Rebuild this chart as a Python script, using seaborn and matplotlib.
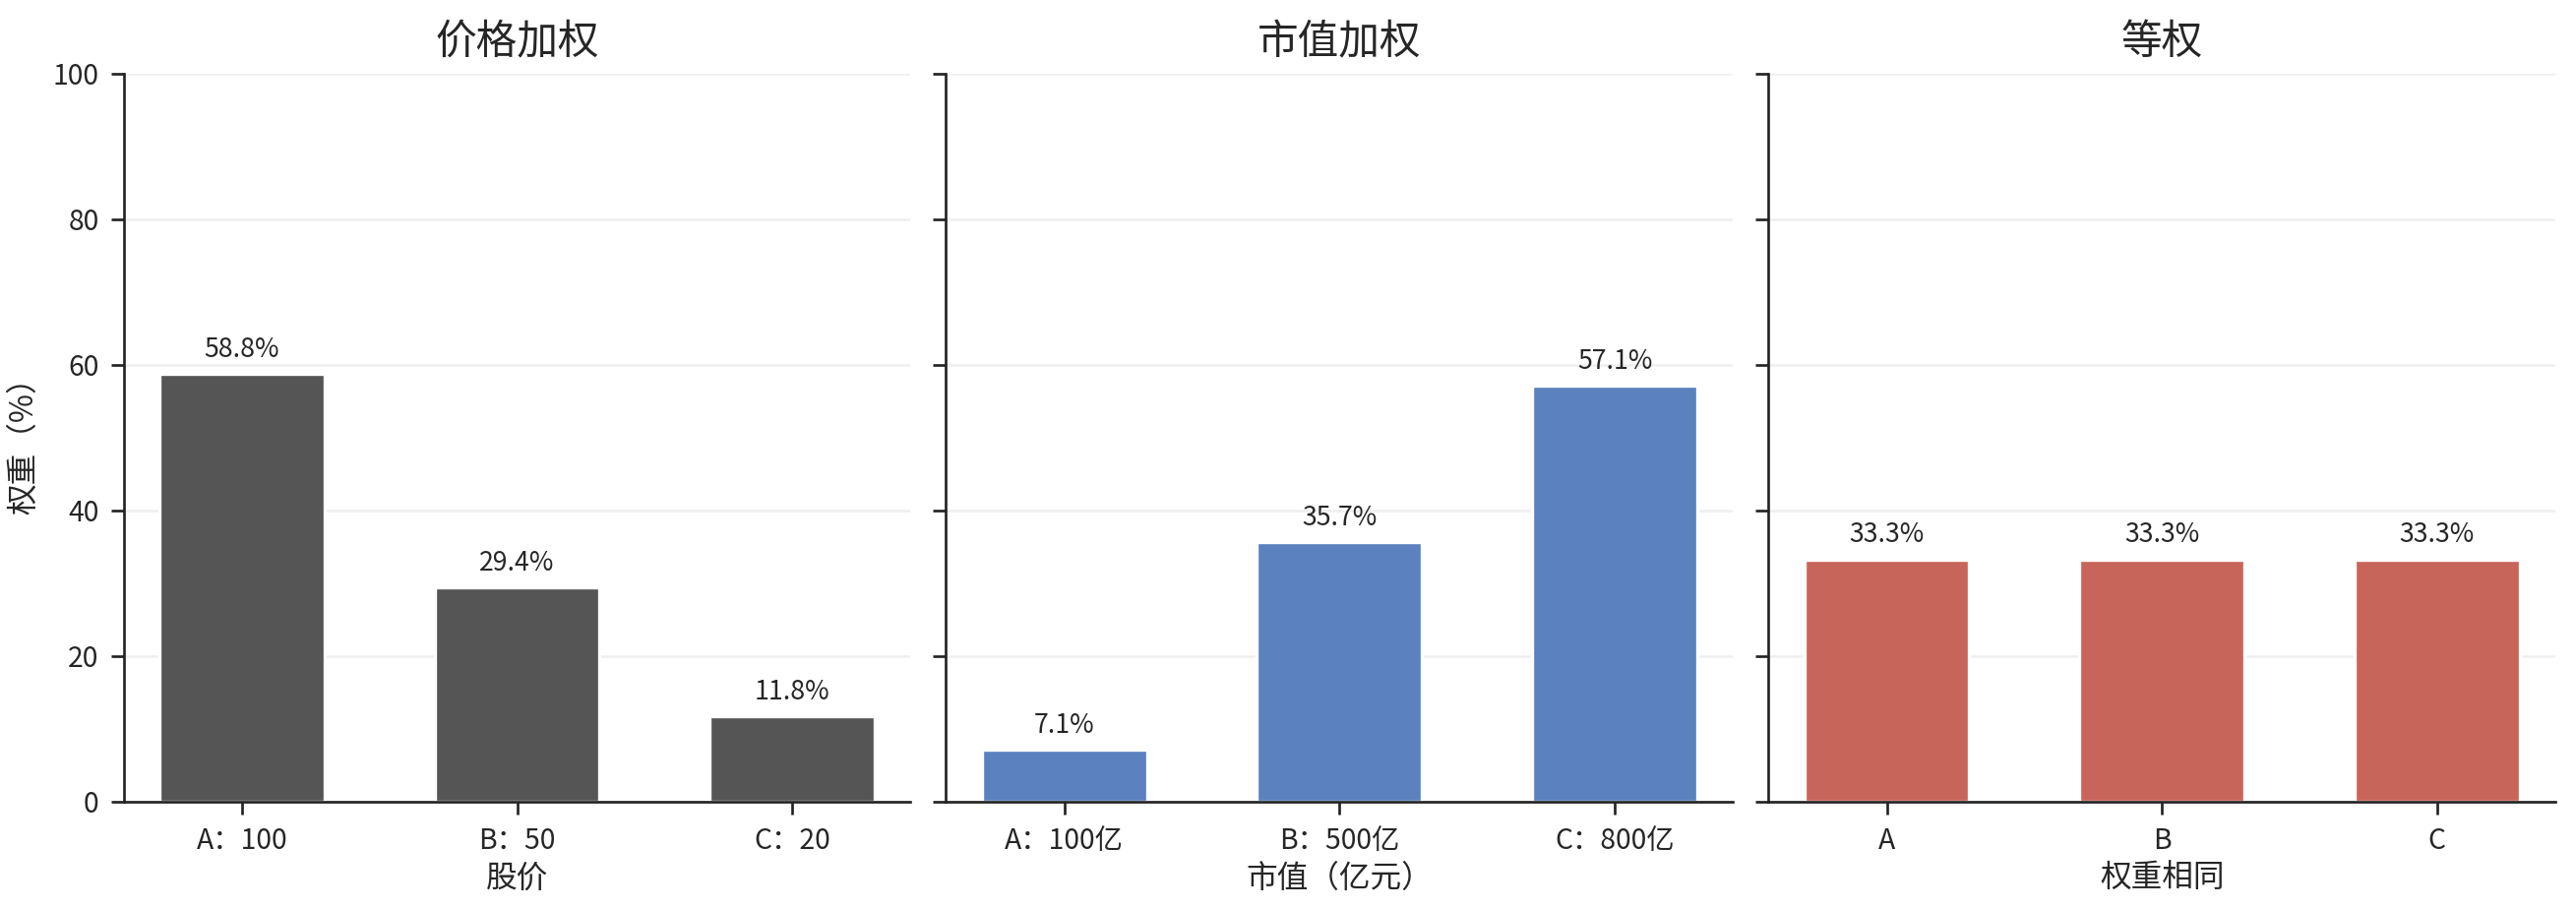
import matplotlib
matplotlib.use("Agg")
import matplotlib.pyplot as plt
import seaborn as sns

# data
price_labels = ["A：100", "B：50", "C：20"]
price_weights = [58.8, 29.4, 11.8]
cap_labels = ["A：100亿", "B：500亿", "C：800亿"]
cap_weights = [7.1, 35.7, 57.1]
equal_labels = ["A", "B", "C"]
equal_weights = [33.3, 33.3, 33.3]

titles = ["价格加权", "市值加权", "等权"]
xlabels = ["股价", "市值（亿元）", "权重相同"]
colors = ["#555555", "#5b82be", "#c8655a"]

sns.set_style("white")
plt.rcParams["font.family"] = ["Noto Sans CJK SC", "DejaVu Sans"]
plt.rcParams["axes.unicode_minus"] = False

fig, axes = plt.subplots(1, 3, figsize=(2618 / 240, 924 / 240), dpi=240, sharey=True)
fig.subplots_adjust(left=0.048, right=0.992, top=0.919, bottom=0.118, wspace=0.045)

panels = [
    (price_labels, price_weights),
    (cap_labels, cap_weights),
    (equal_labels, equal_weights),
]

for i, (ax, (labels, vals)) in enumerate(zip(axes, panels)):
    sns.barplot(x=labels, y=vals, color=colors[i], saturation=1, width=0.6, ax=ax)
    for j, v in enumerate(vals):
        ax.text(j, v + 1.5, f"{v:.1f}%", ha="center", va="bottom", fontsize=8)
    ax.set_title(titles[i], fontsize=12.5)
    ax.set_xlabel(xlabels[i], fontsize=9.5, labelpad=2)
    ax.set_xlim(-0.43, 2.43)
    ax.set_ylim(0, 100)
    ax.set_yticks([0, 20, 40, 60, 80, 100])
    ax.grid(axis="y", alpha=0.3)
    ax.set_axisbelow(True)
    ax.tick_params(axis="both", labelsize=8.5, length=4, left=True, bottom=True, color="#222222")
    for s in ("left", "bottom"):
        ax.spines[s].set_color("#222222")
    sns.despine(ax=ax)

axes[0].set_ylabel("权重（%）", fontsize=9.5, labelpad=4)

plt.savefig("out.png", dpi=240)
plt.close()
